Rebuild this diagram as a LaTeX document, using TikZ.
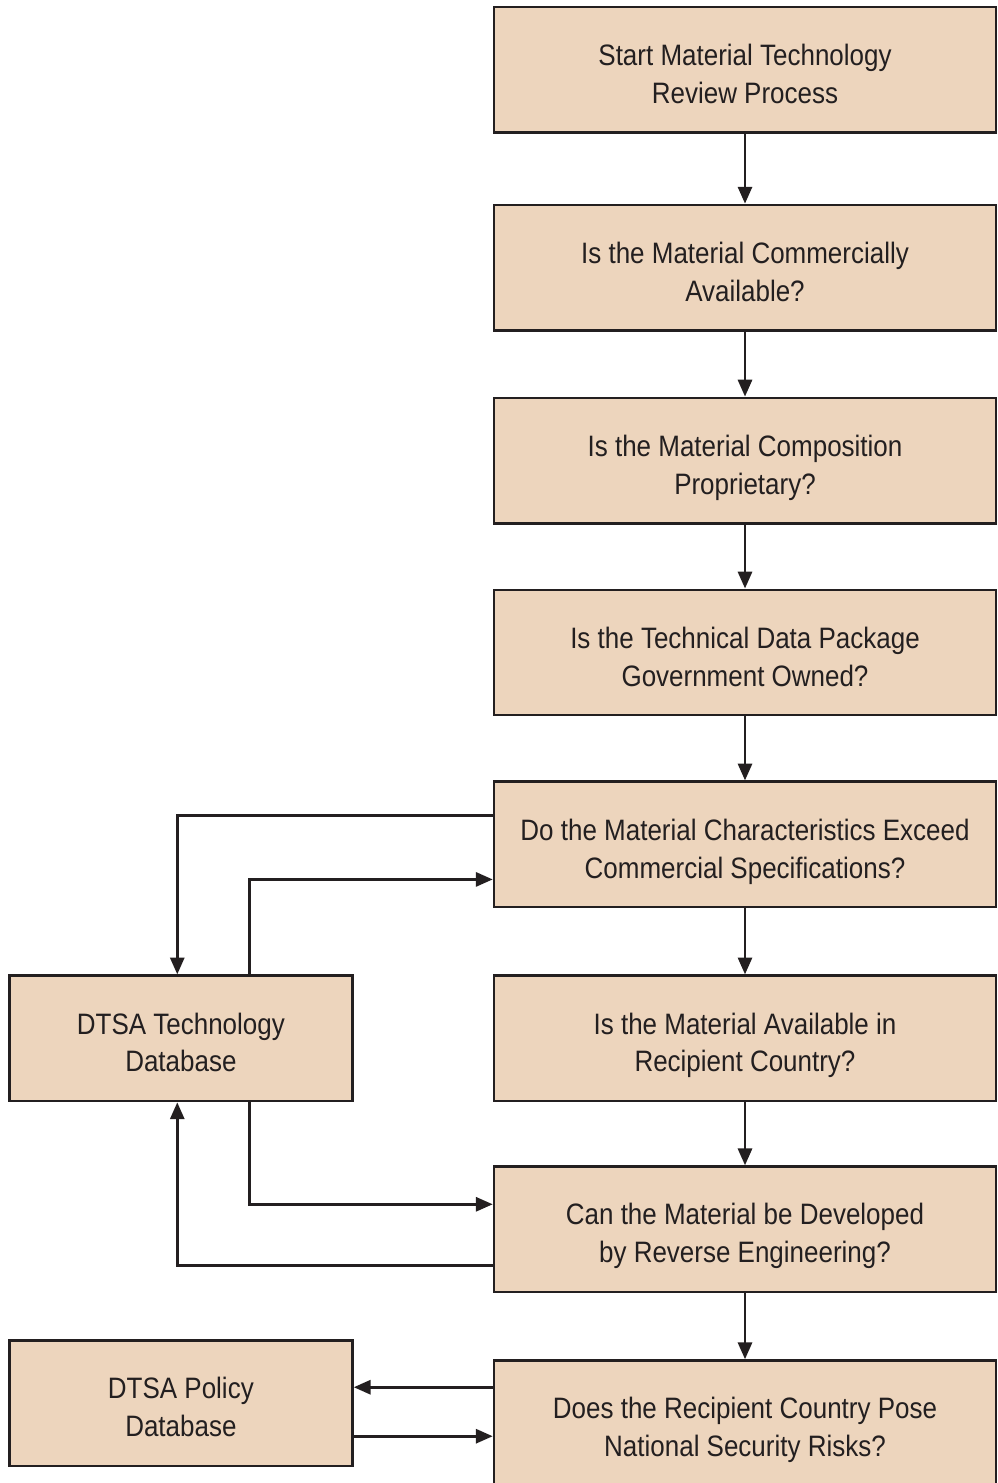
\documentclass[tikz,border=0pt]{standalone}
\usepackage{fontspec}
\setmainfont[FakeStretch=0.88]{Liberation Sans}
\usepackage{tikz}
\usetikzlibrary{arrows.meta, positioning, calc}
\definecolor{colBox}{RGB}{237,213,189}
\definecolor{colLine}{RGB}{35,31,32}
\newcommand{\boxtext}[1]{\raisebox{-5pt}[\height][\depth]{\begin{tabular}{@{}c@{}}#1\end{tabular}}}

\begin{document}
\begin{tikzpicture}[
            font=\fontsize{21}{27}\selectfont,
            box/.style={rectangle, minimum width=12.55cm, minimum height=3.135cm, text centered, draw=colLine, fill=colBox, line width=1.8pt, text=colLine},
            dbbox/.style={box, minimum width=8.58cm},
            arrow/.style={-{Triangle[length=12pt,width=10pt]}, line width=2pt, draw=colLine}
        ]
        \useasboundingbox (0,0) rectangle (24.95,-37.075);

        %% ── COLONNE DROITE : ÉTAPES DE REVUE ──────────────────────────
        \node[box] (start) at (18.625,-1.7425) {\boxtext{Start Material Technology\\Review Process}};
        \node[box, below=1.75cm of start] (comm) {\boxtext{Is the Material Commercially\\Available?}};
        \node[box, below=1.625cm of comm] (compo) {\boxtext{Is the Material Composition\\Proprietary?}};
        \node[box, below=1.6cm of compo] (tdp) {\boxtext{Is the Technical Data Package\\Government Owned?}};
        \node[box, below=1.6cm of tdp] (specs) {\boxtext{Do the Material Characteristics Exceed\\Commercial Specifications?}};
        \node[box, below=1.65cm of specs] (avail) {\boxtext{Is the Material Available in\\Recipient Country?}};
        \node[box, below=1.575cm of avail] (reveng) {\boxtext{Can the Material be Developed\\by Reverse Engineering?}};
        \node[box, below=1.65cm of reveng] (risk) {\boxtext{Does the Recipient Country Pose\\National Security Risks?}};

        %% ── COLONNE GAUCHE : BASES DTSA ───────────────────────────────
        \node[dbbox, left=3.475cm of avail] (techdb) {\boxtext{DTSA Technology\\Database}};
        \node[dbbox, left=3.475cm of risk, yshift=0.5cm] (poldb) {\boxtext{DTSA Policy\\Database}};

        % Flèches verticales
        \draw[arrow] (start) -- (comm);
        \draw[arrow] (comm) -- (compo);
        \draw[arrow] (compo) -- (tdp);
        \draw[arrow] (tdp) -- (specs);
        \draw[arrow] (specs) -- (avail);
        \draw[arrow] (avail) -- (reveng);
        \draw[arrow] (reveng) -- (risk);

        % Échanges avec la base technologique
        \draw[arrow] ([yshift=0.725cm]specs.west) -| ([xshift=-0.09cm]techdb.north);
        \draw[arrow] ([xshift=1.71cm]techdb.north) |- ([yshift=-0.875cm]specs.west);
        \draw[arrow] ([xshift=1.71cm]techdb.south) |- ([yshift=0.625cm]reveng.west);
        \draw[arrow] ([yshift=-0.9cm]reveng.west) -| ([xshift=-0.09cm]techdb.south);

        % Échanges avec la base politique
        \draw[arrow] ([yshift=0.4cm]poldb.east -| risk.west) -- ([yshift=0.4cm]poldb.east);
        \draw[arrow] ([yshift=-0.825cm]poldb.east) -- ([yshift=-0.825cm]poldb.east -| risk.west);

\end{tikzpicture}
\end{document}
